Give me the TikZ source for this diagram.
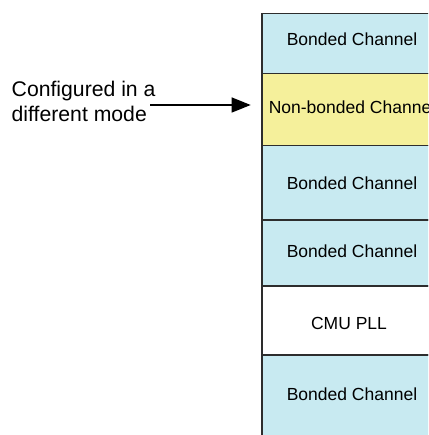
\documentclass[tikz,border=0pt]{standalone}
\usepackage{fontspec}
\setmainfont{Liberation Sans}
\usetikzlibrary{arrows.meta}
\definecolor{chblue}{RGB}{200,234,241}
\definecolor{chyellow}{RGB}{245,240,155}
\definecolor{edge}{RGB}{45,45,45}
\tikzset{
  chanbox/.style={draw=edge, line width=1.5pt, minimum width=182pt, inner sep=0pt, anchor=north west},
  bluebox/.style={chanbox, fill=chblue},
  yellowbox/.style={chanbox, fill=chyellow},
  whitebox/.style={chanbox, fill=white},
  chantext/.style={font=\fontsize{17.5}{21}\selectfont, anchor=base, inner sep=0pt},
  sidetext/.style={font=\fontsize{21.2}{25}\selectfont, anchor=base west, inner sep=0pt},
  pointer/.style={draw=black, line width=1.3pt, -{Triangle[length=19pt,width=15pt]}}
}
\begin{document}
\begin{tikzpicture}[x=1pt,y=-1pt]
\useasboundingbox (0,0) rectangle (428,435);
\clip (0,0) rectangle (428,435);
% channel column
\node[bluebox,   minimum height=60pt] (b1)  at (261,13)  {};
\node[yellowbox, minimum height=72pt] (nb)  at (261,73)  {};
\node[bluebox,   minimum height=74pt] (b2)  at (261,145) {};
\node[bluebox,   minimum height=66pt] (b3)  at (261,219) {};
\node[whitebox,  minimum height=69pt] (pll) at (261,285) {};
\node[bluebox,   minimum height=84pt] (b4)  at (261,354) {};
% texts
\node[chantext] (t1)  at (352,45.7)  {Bonded Channel};
\node[chantext] (tnb) at (352,113.3) {Non-bonded Channel};
\node[chantext] (t2)  at (352,190)   {Bonded Channel};
\node[chantext] (t3)  at (352,257.3) {Bonded Channel};
\node[chantext] (tp)  at (349,329)   {CMU PLL};
\node[chantext] (t4)  at (352,400)   {Bonded Channel};
% side label
\node[sidetext] (s1) at (11.5,97)  {Configured in a};
\node[sidetext] (s2) at (11.5,122) {different mode};
\coordinate (as) at (150,105);
\coordinate (ae) at (250.7,105);
\draw[pointer] (as) -- (ae);
\end{tikzpicture}
\end{document}
